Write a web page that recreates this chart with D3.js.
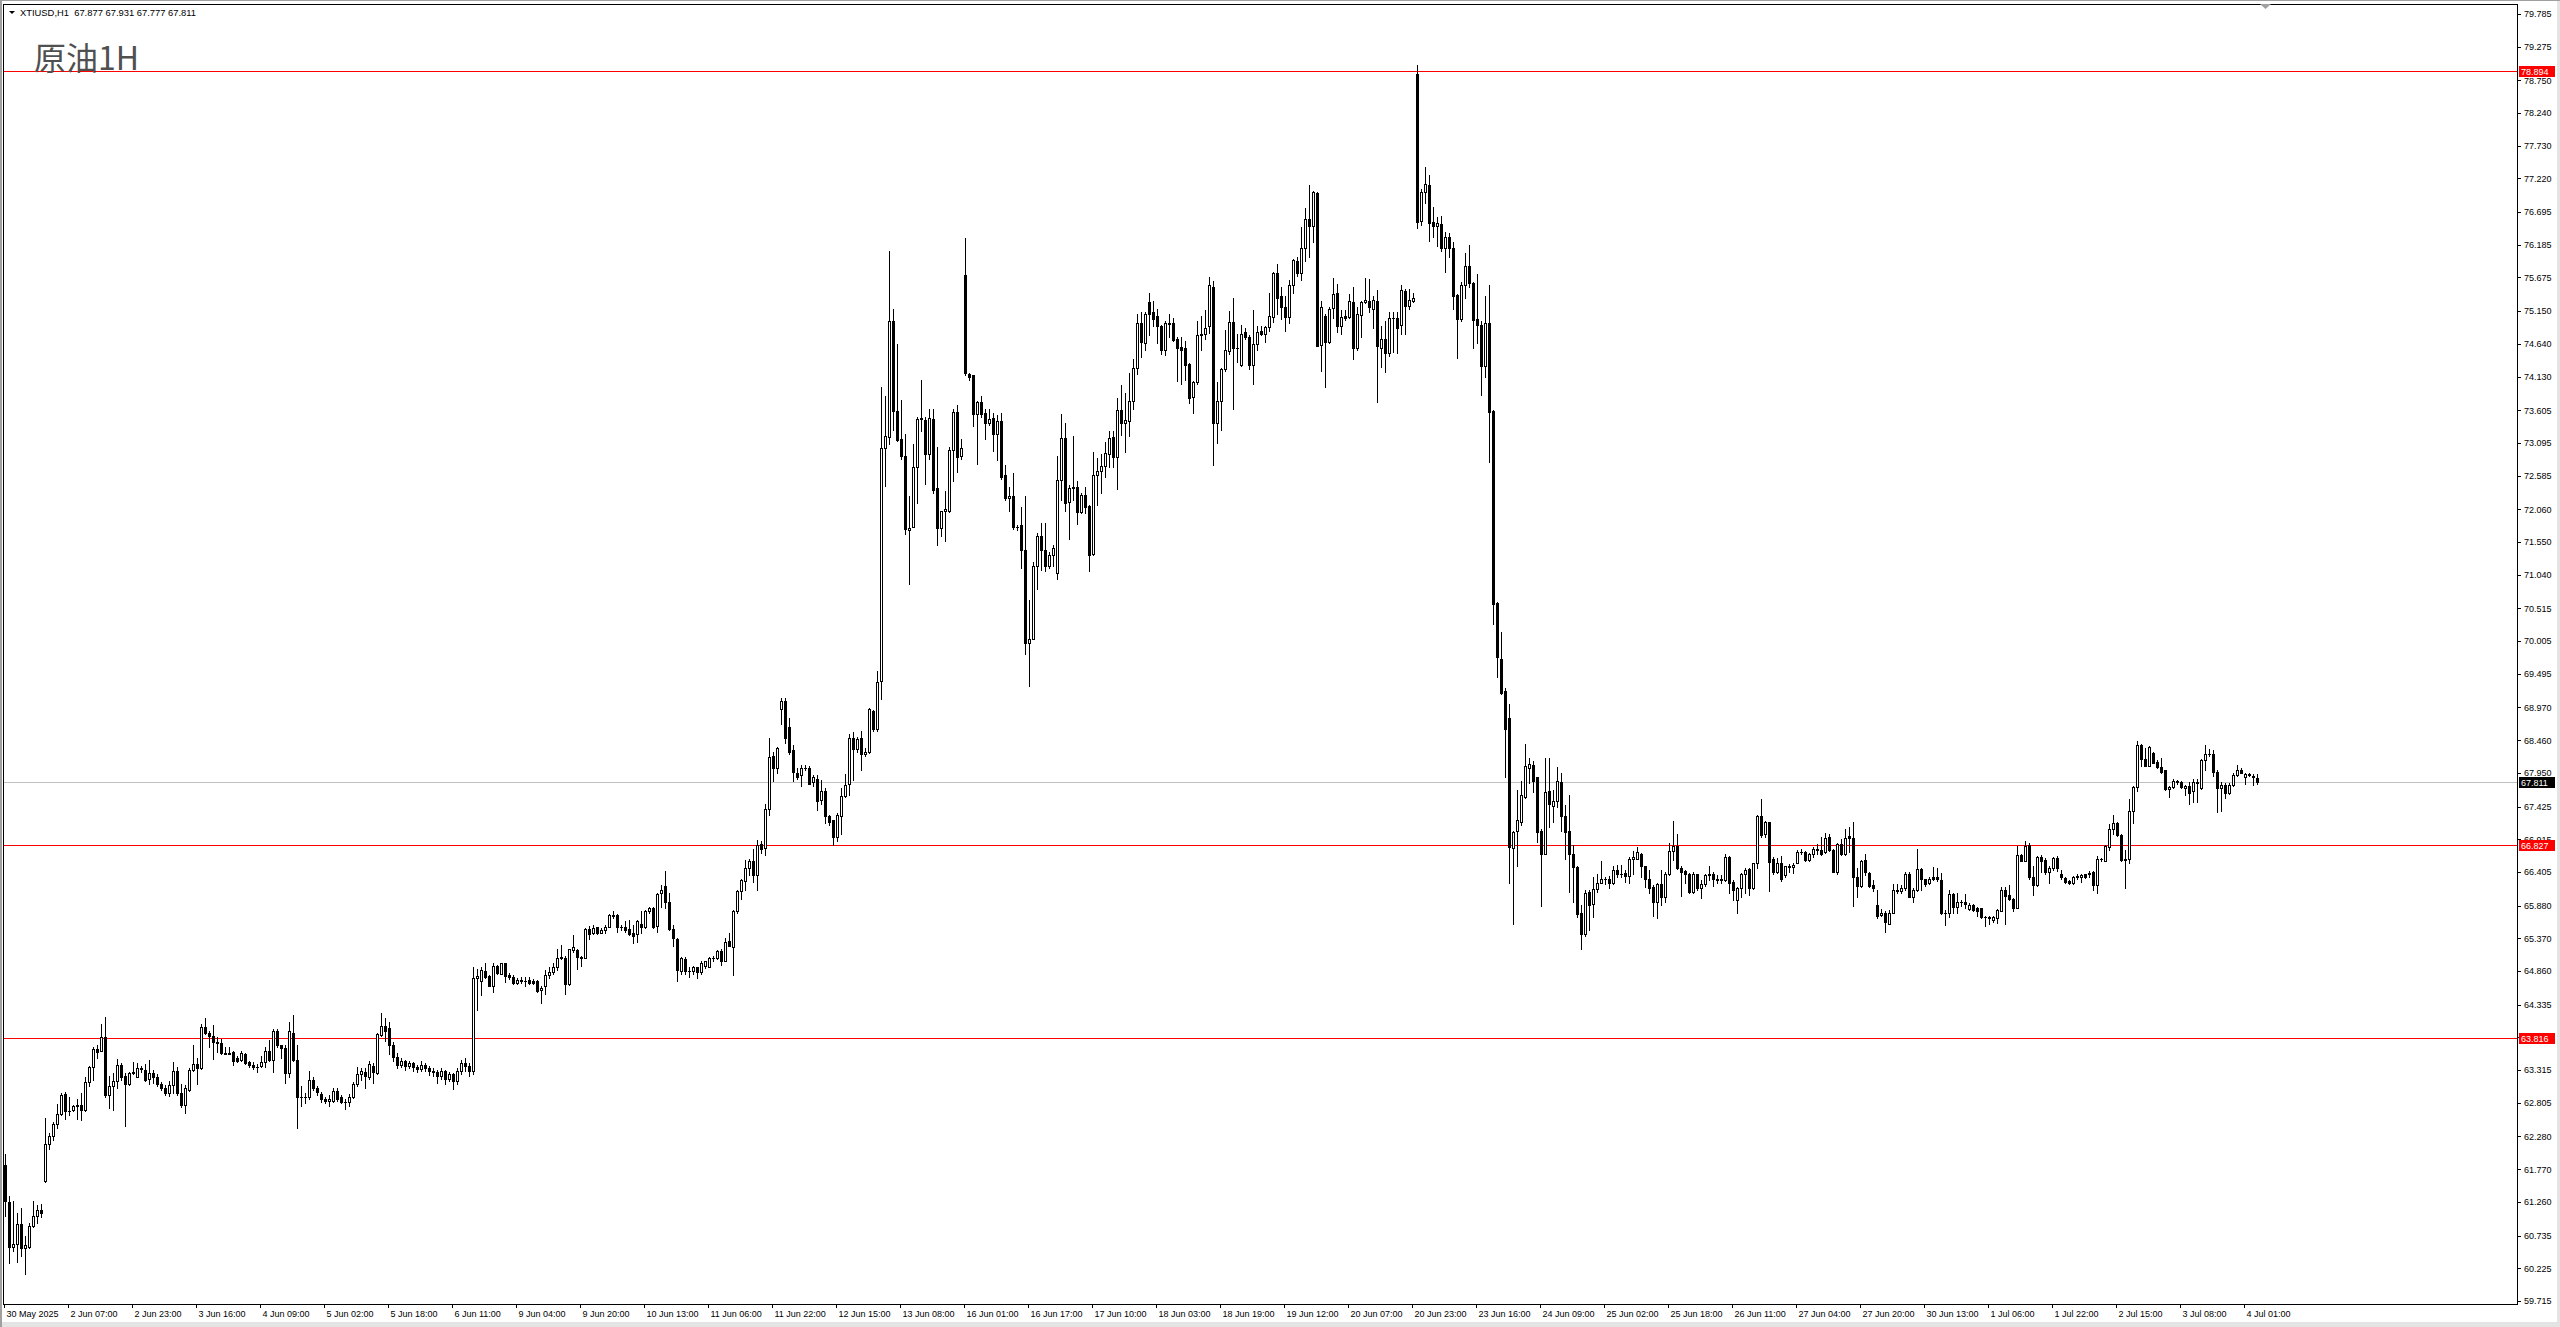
<!DOCTYPE html>
<html><head><meta charset="utf-8">
<script src="https://cdn.jsdelivr.net/npm/d3@7"></script>
<style>html,body{margin:0;padding:0;background:#fff;overflow:hidden}svg{display:block}</style>
</head><body>
<script>
// ---- data: hourly candles [open, high, low, close] per trading week ----
const week0530 = [
[61.83,62.01,61.04,61.28],[61.26,61.35,60.30,60.56],[60.56,61.28,60.49,60.60],[60.60,61.09,60.33,60.91],[60.92,61.17,60.42,60.54],
[60.54,60.73,60.14,60.58],[60.56,60.93,60.54,60.88],[60.88,61.27,60.87,61.04],[61.04,61.21,60.93,61.14],[61.14,61.22,61.02,61.08]];
const week0602 = [
[61.59,62.57,61.57,62.17],[62.17,62.33,62.08,62.29],[62.29,62.51,62.22,62.48],[62.48,62.79,62.41,62.63],[62.63,62.96,62.62,62.92],
[62.94,62.97,62.56,62.68],[62.68,62.89,62.62,62.67],[62.70,62.77,62.68,62.75],[62.75,62.86,62.55,62.77],[62.77,62.96,62.53,62.70],
[62.70,63.21,62.68,63.13],[63.13,63.38,63.07,63.36],[63.36,63.68,63.16,63.65],[63.65,63.70,63.50,63.59],[63.61,64.04,63.61,63.83],
[63.83,64.14,62.90,62.92],[62.92,63.23,62.73,63.07],[63.07,63.27,62.70,63.14],[63.14,63.49,63.03,63.39],[63.39,63.42,63.16,63.21],
[63.22,63.27,62.44,63.10],[63.10,63.28,63.08,63.27],[63.27,63.44,63.25,63.28],[63.21,63.42,63.20,63.34],[63.34,63.38,63.28,63.33],
[63.32,63.41,63.15,63.16],[63.18,63.47,63.10,63.27],[63.27,63.32,63.11,63.20],[63.20,63.25,63.06,63.10],[63.10,63.13,63.01,63.04],
[63.04,63.08,62.92,62.95],[62.95,63.15,62.91,63.08],[63.08,63.44,62.96,63.30],[63.30,63.36,62.92,62.95],[62.95,63.10,62.74,62.77],
[62.77,63.08,62.65,63.03],[63.01,63.34,62.99,63.32],[63.32,63.71,63.30,63.41],[63.41,63.51,63.10,63.34],[63.34,64.04,63.33,63.99],
[63.99,64.12,63.88,63.90],[63.90,63.93,63.68,63.85],[63.85,64.02,63.49,63.75],[63.76,63.83,63.59,63.73],[63.73,63.80,63.56,63.58],
[63.58,63.68,63.56,63.57],[63.57,63.68,63.56,63.58],[63.59,63.61,63.39,63.45],[63.51,63.54,63.44,63.45],[63.47,63.61,63.45,63.58],
[63.56,63.58,63.41,63.42],[63.44,63.45,63.36,63.39],[63.39,63.44,63.33,63.36],[63.36,63.41,63.29,63.37],[63.38,63.54,63.37,63.44],
[63.44,63.68,63.37,63.61],[63.61,63.78,63.45,63.48],[63.48,63.95,63.29,63.92],[63.92,63.95,63.68,63.70],[63.70,63.71,63.51,63.66],
[63.66,63.71,63.11,63.27],[63.27,64.06,63.20,63.92],[63.90,64.18,63.45,63.48],[63.48,63.71,62.41,62.89],[62.89,63.07,62.75,62.90],
[62.90,62.96,62.80,62.89],[62.89,63.30,62.86,63.16],[63.16,63.20,63.01,63.03],[63.04,63.06,62.92,62.97],[62.94,62.97,62.82,62.87],
[62.87,62.90,62.80,62.84],[62.84,62.92,62.75,62.86],[62.84,63.03,62.82,62.99],[62.99,63.03,62.84,62.87],[62.89,62.92,62.80,62.82],
[62.82,62.86,62.71,62.82],[62.82,62.94,62.75,62.89],[62.90,63.13,62.88,63.10],[63.10,63.37,63.07,63.25],[63.25,63.34,63.16,63.30],
[63.28,63.34,63.04,63.23],[63.21,63.45,63.18,63.41],[63.38,63.42,63.11,63.29],[63.27,63.90,63.25,63.88],[63.86,64.20,63.85,64.00],
[64.00,64.12,63.77,63.93],[63.97,64.07,63.56,63.70],[63.70,63.75,63.45,63.52],[63.52,63.58,63.35,63.40],[63.40,63.50,63.36,63.45],
[63.45,63.48,63.32,63.38],[63.38,63.46,63.34,63.42],[63.42,63.44,63.30,63.36],[63.36,63.40,63.28,63.33],[63.33,63.45,63.30,63.40],
[63.40,63.43,63.30,63.35],[63.35,63.38,63.24,63.30],[63.30,63.34,63.22,63.28],[63.28,63.31,63.12,63.22],[63.22,63.35,63.18,63.30],
[63.30,63.32,63.10,63.18],[63.18,63.28,63.14,63.25],[63.25,63.27,63.02,63.15],[63.15,63.34,63.10,63.30],[63.30,63.48,63.26,63.42],
[63.42,63.50,63.30,63.38],[63.38,63.42,63.22,63.30],[63.30,64.92,63.25,64.75],[64.75,64.89,64.25,64.78],[64.71,64.93,64.48,64.88],
[64.86,64.99,64.75,64.77],[64.78,64.80,64.62,64.63],[64.63,64.99,64.54,64.94],[64.94,64.95,64.81,64.83],[64.82,64.99,64.81,64.98]];
const week0609 = [
[64.98,64.99,64.69,64.78],[64.80,64.83,64.73,64.76],[64.76,64.80,64.66,64.68],[64.67,64.75,64.65,64.72],[64.72,64.76,64.68,64.71],
[64.71,64.76,64.62,64.71],[64.72,64.76,64.65,64.68],[64.71,64.73,64.65,64.67],[64.71,64.72,64.54,64.55],[64.56,64.62,64.36,64.60],
[64.62,64.88,64.50,64.79],[64.79,64.93,64.75,64.85],[64.85,64.99,64.82,64.93],[64.93,65.20,64.87,65.07],[65.07,65.26,65.04,65.08],
[65.07,65.09,64.50,64.65],[64.66,65.21,64.64,65.20],[65.18,65.42,65.16,65.23],[65.19,65.21,64.89,65.08],[65.08,65.09,64.94,65.07],
[65.07,65.53,65.06,65.52],[65.52,65.56,65.36,65.44],[65.46,65.58,65.43,65.53],[65.54,65.55,65.43,65.46],[65.46,65.53,65.45,65.50],
[65.50,65.58,65.46,65.54],[65.55,65.75,65.54,65.73],[65.73,65.80,65.69,65.72],[65.73,65.75,65.47,65.54],[65.54,65.58,65.50,65.54],
[65.54,65.64,65.47,65.50],[65.51,65.66,65.42,65.44],[65.45,65.58,65.29,65.41],[65.44,65.66,65.32,65.64],[65.60,65.80,65.46,65.55],
[65.54,65.81,65.53,65.79],[65.79,65.86,65.77,65.84],[65.84,65.86,65.53,65.55],[65.56,66.08,65.47,66.06],[66.07,66.20,65.86,66.13],
[66.18,66.42,65.84,65.94],[65.94,66.07,65.50,65.51],[65.51,65.58,65.25,65.37],[65.36,65.37,64.71,64.87],[64.86,65.08,64.81,65.07],
[65.05,65.08,64.82,64.86],[64.86,64.93,64.77,64.86],[64.86,64.94,64.82,64.93],[64.92,64.93,64.75,64.85],[64.85,65.01,64.82,64.98],
[64.94,65.02,64.90,65.01],[64.93,65.08,64.92,65.07],[65.07,65.09,65.02,65.07],[65.06,65.19,65.05,65.17],[65.17,65.21,64.96,65.02],
[65.02,65.37,65.01,65.31],[65.33,65.45,65.25,65.25],[65.24,65.81,64.80,65.80],[65.79,66.12,65.77,66.11],[66.11,66.30,65.99,66.28],
[66.27,66.59,66.12,66.46],[66.46,66.61,66.36,66.58],[66.57,66.76,66.25,66.36],[66.36,66.90,66.12,66.83],[66.84,66.89,66.70,66.77],
[66.78,67.47,66.67,67.38],[67.38,68.49,67.30,68.20],[68.21,68.28,67.83,68.02],[68.02,68.35,67.94,68.33],[68.95,69.12,68.71,69.07],
[69.07,69.12,68.41,68.49],[68.66,68.80,68.24,68.28],[68.30,68.39,67.82,67.96],[67.95,68.02,67.85,67.88],[67.91,68.08,67.74,68.02],
[68.02,68.08,67.99,68.03],[68.03,68.06,67.77,67.78],[67.80,67.91,67.74,67.89],[67.86,67.91,67.37,67.51],[67.52,67.84,67.46,67.67],
[67.66,67.72,67.17,67.28],[67.28,67.30,67.14,67.19],[67.21,67.22,66.83,66.95],[66.95,67.33,66.89,67.29],[67.28,67.72,66.99,67.59],
[67.59,67.93,67.58,67.76],[67.77,68.55,67.61,68.49],[68.50,68.58,67.84,68.32],[68.32,68.51,68.27,68.47],[68.49,68.60,67.99,68.24],
[68.24,68.33,68.21,68.28],[68.27,68.96,68.26,68.94],[68.91,68.93,68.60,68.63],[68.63,69.54,68.60,69.37],[69.38,73.96,69.10,73.01],
[73.01,73.83,72.43,73.20],[73.19,76.09,73.08,74.99],[74.99,75.19,73.30,73.60],[73.60,74.63,73.13,73.14],[73.16,73.77,72.84,72.89],
[72.89,73.23,71.67,71.75],[71.73,72.27,70.89,71.77],[71.79,73.08,71.78,72.72],[72.72,73.50,72.16,73.47],[73.47,74.08,73.28,73.48],
[73.45,73.50,72.45,72.92],[72.92,73.63,72.84,73.48],[73.47,73.63,72.31,72.36],[72.39,73.03,71.50,71.77],[71.77,72.04,71.65,72.03],
[72.03,72.34,71.56,72.06],[72.04,73.03,72.02,72.98],[72.99,73.63,72.50,73.58],[73.58,73.68,72.64,72.88],[72.89,73.16,72.84,73.01]];
const week0616 = [
[75.71,76.29,74.16,74.19],[74.17,74.19,74.07,74.13],[74.15,74.16,73.36,73.55],[73.55,73.75,72.77,73.73],[73.73,73.82,73.50,73.55],
[73.56,73.63,73.15,73.40],[73.41,73.63,73.38,73.47],[73.48,73.56,72.97,73.24],[73.24,73.53,72.83,73.43],[73.44,73.56,72.53,72.57],
[72.59,72.75,72.21,72.23],[72.23,72.41,72.03,72.26],[72.26,72.62,71.75,71.78],[71.78,71.81,71.73,71.79],[71.81,72.09,71.15,71.43],
[71.43,72.27,69.81,69.97],[69.97,70.65,69.30,70.04],[70.04,71.23,70.03,71.17],[71.17,71.69,70.82,71.65],[71.65,71.84,71.12,71.43],
[71.42,71.84,71.10,71.18],[71.18,71.40,71.15,71.35],[71.35,71.50,71.18,71.45],[71.07,72.89,70.98,72.51],[72.51,73.55,72.21,73.17],
[73.17,73.41,72.03,72.16],[72.17,72.44,71.60,72.39],[72.39,73.20,72.21,72.40],[72.41,72.50,71.83,72.01],[72.01,72.31,72.00,72.28],
[72.29,72.41,72.00,72.09],[72.11,72.12,71.10,71.35],[71.37,72.95,71.35,72.59],[72.59,72.86,72.12,72.66],[72.66,72.92,72.31,72.73],
[72.73,73.11,72.56,72.93],[72.92,73.28,72.72,73.17],[73.19,73.28,72.72,72.88],[72.88,73.80,72.37,73.61],[73.61,74.00,73.22,73.41],
[73.41,73.88,72.96,73.45],[73.43,74.19,73.20,73.75],[73.75,74.40,73.63,74.27],[74.27,75.11,74.17,74.97],[74.97,75.14,74.44,74.67],
[74.66,75.14,74.55,75.10],[75.29,75.43,74.78,75.11],[75.13,75.31,74.91,75.02],[75.08,75.18,74.66,74.91],[74.92,74.93,74.48,74.55],
[74.55,74.99,74.46,74.97],[74.97,75.10,74.74,74.95],[74.97,75.04,74.69,74.70],[74.71,74.75,74.06,74.57],[74.59,74.74,74.01,74.55],
[74.57,74.69,74.08,74.31],[74.32,74.34,73.72,73.79],[73.81,74.06,73.56,74.04],[74.04,74.99,74.01,74.77],[74.79,75.07,74.55,74.77],
[74.79,75.17,74.71,74.89],[74.91,75.68,74.81,75.55],[75.53,75.62,72.75,73.41],[73.41,74.04,73.10,73.75],[73.75,74.27,73.29,74.24],
[74.25,74.86,74.22,74.54],[74.53,75.15,74.48,74.98],[74.98,75.36,73.62,74.58],[74.58,74.79,74.36,74.58],[74.31,74.93,74.30,74.80],
[74.82,74.88,74.71,74.74],[74.75,74.78,74.24,74.31],[74.31,75.17,74.02,74.63],[74.63,74.92,74.55,74.83],[74.84,74.91,74.77,74.80],
[74.80,74.92,74.67,74.90],[74.90,75.44,74.84,75.08],[75.06,75.76,74.98,75.74],[75.74,75.89,75.11,75.35],[75.38,75.52,75.03,75.22],
[75.22,75.38,74.84,75.06],[75.06,75.64,74.96,75.55],[75.55,75.97,75.44,75.94],[75.93,75.99,75.69,75.75],[75.74,76.46,75.64,76.14],
[76.13,76.75,75.93,76.58],[76.58,77.12,76.00,76.47],[76.47,77.03,76.23,77.00],[76.99,77.00,74.60,74.61],[74.62,75.30,74.21,75.22],
[75.07,75.10,73.96,74.67],[74.67,75.22,74.65,75.19],[75.20,75.66,75.04,75.41],[75.43,75.57,74.83,74.91],[74.91,75.17,74.79,75.06],
[75.07,75.16,75.01,75.05],[75.06,75.41,75.05,75.30],[75.29,75.52,74.41,74.57],[74.57,75.22,74.55,75.10],[75.09,75.30,74.74,75.29],
[75.29,75.66,75.27,75.32],[75.31,75.65,75.14,75.21],[75.18,75.38,74.89,75.32],[75.31,75.48,73.73,74.61],[74.58,74.91,74.28,74.71],
[74.72,74.99,74.20,74.49],[74.49,75.14,74.45,75.04],[75.04,75.14,74.52,75.05],[75.04,75.14,74.49,74.89],[74.93,75.56,74.80,75.48],
[75.47,75.49,74.80,75.23],[75.23,75.49,75.18,75.32],[75.30,75.43,75.29,75.36]];
const week0623 = [
[78.85,78.98,76.45,76.54],[76.56,77.06,76.49,77.00],[77.00,77.39,76.84,77.13],[77.12,77.27,76.25,76.52],[76.54,76.77,76.31,76.48],
[76.48,76.61,76.16,76.52],[76.51,76.63,76.09,76.13],[76.13,76.39,75.76,76.31],[76.31,76.37,76.00,76.13],[76.14,76.23,75.18,75.38],
[75.40,75.42,74.42,75.03],[75.03,75.61,74.99,75.56],[75.56,76.05,75.36,75.86],[75.86,76.18,75.52,75.59],[75.59,75.61,74.58,75.01],
[75.03,75.73,74.65,74.94],[74.94,74.99,73.84,74.30],[74.30,75.38,74.13,74.97],[74.97,75.56,72.80,73.57],[73.59,73.61,70.27,70.59],
[70.60,70.62,69.45,69.75],[69.72,70.15,69.18,69.20],[69.23,69.27,67.88,68.64],[68.81,69.02,66.23,66.80],[66.78,67.05,65.59,67.03],
[67.04,67.69,66.50,67.21],[67.19,67.83,67.13,67.60],[67.58,68.40,67.56,68.06],[68.03,68.18,67.79,68.09],[68.08,68.13,67.65,67.83],
[67.88,67.89,66.87,67.03],[67.05,67.07,65.88,66.69],[66.69,68.18,66.69,67.65],[67.67,68.18,67.10,67.46],[67.44,67.68,67.19,67.51],
[67.51,68.04,67.42,67.83],[67.80,67.94,67.05,67.28],[67.28,67.45,66.61,67.03],[67.05,67.60,66.09,66.69],[66.69,66.82,65.94,66.48],
[66.48,66.50,65.70,65.75],[65.77,65.89,65.20,65.43],[65.43,66.12,65.41,66.07],[66.09,66.12,65.50,65.89],[65.91,66.32,65.70,66.14],
[66.14,66.37,66.09,66.23],[66.23,66.58,66.23,66.30],[66.30,66.32,66.21,66.29],[66.30,66.34,66.16,66.23],[66.23,66.49,66.21,66.43],
[66.43,66.52,66.32,66.37],[66.37,66.52,66.32,66.37],[66.39,66.43,66.25,66.34],[66.34,66.64,66.23,66.61],[66.60,66.73,66.37,66.64],
[66.61,66.80,66.60,66.71],[66.68,66.70,66.33,66.49],[66.49,66.50,66.17,66.29],[66.29,66.43,66.07,66.15],[66.17,66.20,65.71,65.94],
[65.94,66.24,65.69,66.22],[66.21,66.43,65.89,66.02],[66.02,66.41,65.93,66.38],[66.37,66.85,66.36,66.73],[66.73,67.20,66.59,66.81],
[66.81,66.99,66.45,66.46],[66.46,66.49,66.03,66.41],[66.42,66.43,66.23,66.38],[66.38,66.39,66.08,66.09],[66.09,66.40,66.07,66.38],
[66.37,66.38,66.12,66.15],[66.15,66.28,66.00,66.21],[66.21,66.37,66.19,66.36],[66.36,66.49,66.28,66.38],[66.38,66.40,66.19,66.29],
[66.30,66.36,66.23,66.28],[66.30,66.35,66.24,66.28],[66.28,66.68,66.26,66.63],[66.64,66.65,66.07,66.24],[66.25,66.28,65.97,66.12],
[65.97,66.17,65.77,66.15],[66.15,66.39,66.02,66.38],[66.37,66.46,66.07,66.43],[66.45,66.46,66.05,66.15],[66.15,66.55,66.14,66.54],
[66.54,67.30,66.46,67.28],[67.28,67.54,66.95,66.98],[66.99,67.20,66.95,67.18],[67.18,67.19,66.11,66.56],[66.61,66.63,66.38,66.41],
[66.41,66.62,66.39,66.55],[66.55,66.65,66.27,66.30],[66.35,66.50,66.33,66.49],[66.50,66.53,66.40,66.48],[66.48,66.54,66.39,66.51],
[66.55,66.75,66.54,66.71],[66.71,66.77,66.69,66.71],[66.71,66.73,66.58,66.59],[66.59,66.70,66.58,66.69],[66.68,66.80,66.64,66.76],
[66.76,66.84,66.68,66.74],[66.74,66.95,66.67,66.68],[66.71,67.01,66.70,66.93],[66.95,66.99,66.73,66.75],[66.75,66.77,66.40,66.41],
[66.40,66.86,66.38,66.84],[66.84,66.92,66.67,66.68],[66.68,67.08,66.67,66.94],[66.96,67.11,66.71,66.94],[66.94,67.19,65.88,66.32],
[66.33,66.47,66.02,66.19],[66.19,66.59,66.17,66.58],[66.59,66.68,66.36,66.40],[66.39,66.41,66.17,66.19],[66.20,66.28,66.11,66.16]];
const week0630 = [
[65.89,66.12,65.68,65.72],[65.74,65.82,65.71,65.77],[65.76,65.79,65.47,65.62],[65.60,65.81,65.59,65.77],[65.77,66.22,65.76,66.13],
[66.13,66.22,66.07,66.10],[66.10,66.20,66.07,66.16],[66.16,66.40,66.13,66.38],[66.38,66.40,66.01,66.02],[66.02,66.15,65.94,66.13],
[66.13,66.76,66.11,66.45],[66.45,66.46,66.12,66.29],[66.29,66.30,66.19,66.21],[66.23,66.33,66.21,66.30],[66.33,66.48,66.28,66.30],
[66.32,66.46,66.27,66.29],[66.28,66.39,65.75,65.77],[65.77,65.81,65.58,65.77],[65.77,66.12,65.70,66.06],[66.06,66.07,65.76,65.86],
[65.86,66.07,65.77,65.94],[65.94,65.97,65.88,65.94],[65.94,66.06,65.84,65.91],[65.82,65.92,65.81,65.89],[65.89,65.90,65.79,65.81],
[65.84,65.86,65.72,65.80],[65.84,65.85,65.68,65.70],[65.70,65.71,65.56,65.70],[65.70,65.71,65.60,65.68],[65.66,65.72,65.63,65.70],
[65.68,65.83,65.61,65.81],[65.80,66.17,65.79,66.13],[66.13,66.17,65.59,66.03],[66.05,66.20,65.97,65.99],[65.99,66.00,65.80,65.85],
[65.85,66.81,65.84,66.67],[66.67,66.69,66.57,66.58],[66.58,66.89,66.57,66.81],[66.82,66.85,66.30,66.32],[66.32,66.49,66.05,66.20],
[66.20,66.65,66.19,66.64],[66.64,66.67,66.41,66.58],[66.59,66.62,66.38,66.41],[66.40,66.50,66.23,66.46],[66.46,66.64,66.44,66.62],
[66.62,66.65,66.42,66.46],[66.38,66.43,66.30,66.32],[66.31,66.32,66.24,66.25],[66.26,66.28,66.21,66.23],[66.23,66.34,66.21,66.33],
[66.33,66.37,66.30,66.34],[66.33,66.38,66.25,66.36],[66.37,66.38,66.31,66.32],[66.39,66.42,66.33,66.37],[66.41,66.42,66.12,66.20],
[66.20,66.65,66.08,66.60],[66.60,66.62,66.58,66.61],[66.58,66.82,66.57,66.81],[66.80,67.16,66.74,67.08],[67.08,67.29,66.99,67.17],
[67.17,67.19,66.96,66.98],[66.98,66.99,66.58,66.59],[66.59,66.75,66.15,66.60],[66.60,67.54,66.54,67.36],[67.36,67.75,67.17,67.73],
[67.73,68.44,67.67,68.38],[68.38,68.40,68.05,68.16],[68.16,68.33,68.05,68.06],[68.06,68.37,68.05,68.36],[68.26,68.28,68.10,68.11],
[68.12,68.15,68.02,68.04],[68.04,68.18,67.95,67.97],[67.99,68.00,67.68,67.70],[67.70,67.74,67.58,67.73],[67.73,67.85,67.72,67.82],
[67.82,67.84,67.78,67.81],[67.81,67.82,67.71,67.73],[67.72,67.76,67.61,67.74],[67.74,67.81,67.47,67.64],[67.66,67.85,67.50,67.80],
[67.79,67.86,67.50,67.81],[67.71,68.16,67.70,68.15],[68.15,68.38,68.00,68.24],[68.24,68.32,68.21,68.24],[68.24,68.31,67.90,67.97],
[67.97,67.99,67.34,67.71],[67.71,67.80,67.36,67.76],[67.76,67.79,67.55,67.64],[67.64,67.79,67.62,67.76],[67.76,67.94,67.74,67.92],
[67.92,68.07,67.90,68.00],[68.00,68.03,67.94,67.95],[67.88,67.95,67.77,67.93],[67.93,67.94,67.90,67.91],[67.90,67.93,67.76,67.88],
[67.877,67.931,67.777,67.811]];

const timeLabels = ["30 May 2025","2 Jun 07:00","2 Jun 23:00","3 Jun 16:00","4 Jun 09:00","5 Jun 02:00","5 Jun 18:00","6 Jun 11:00",
"9 Jun 04:00","9 Jun 20:00","10 Jun 13:00","11 Jun 06:00","11 Jun 22:00","12 Jun 15:00","13 Jun 08:00","16 Jun 01:00",
"16 Jun 17:00","17 Jun 10:00","18 Jun 03:00","18 Jun 19:00","19 Jun 12:00","20 Jun 07:00","20 Jun 23:00","23 Jun 16:00",
"24 Jun 09:00","25 Jun 02:00","25 Jun 18:00","26 Jun 11:00","27 Jun 04:00","27 Jun 20:00","30 Jun 13:00","1 Jul 06:00",
"1 Jul 22:00","2 Jul 15:00","3 Jul 08:00","4 Jul 01:00"];
const barsPerLabel = 16;
const priceTicks = [79.785,79.275,78.750,78.240,77.730,77.220,76.695,76.185,75.675,75.150,74.640,74.130,73.605,73.095,
72.585,72.060,71.550,71.040,70.515,70.005,69.495,68.970,68.460,67.950,67.425,66.915,66.405,65.880,65.370,64.860,
64.335,63.825,63.315,62.805,62.280,61.770,61.260,60.735,60.225,59.715];
const levelLines = [78.894, 66.827, 63.816];
const currentPrice = 67.811;
const symbolName = "XTIUSD,H1";
const titleText = "原油1H";

// ---- build ----
const bars = [].concat(week0530, week0602, week0609, week0616, week0623, week0630)
  .map((d, i) => ({i, o: d[0], h: d[1], l: d[2], c: d[3]}));
const W = 2560, H = 1327;
const plot = {left: 3, top: 4, right: 2517, bottom: 1304};
const FONT = "'Liberation Sans', Arial, sans-serif";

const svg = d3.select("body").append("svg").attr("width", W).attr("height", H);
svg.append("rect").attr("width", W).attr("height", H).attr("fill", "#ffffff");
// window edges
svg.append("rect").attr("x", 0).attr("y", 1322).attr("width", W).attr("height", 5).attr("fill", "#e4e4e4");
svg.append("rect").attr("x", 2557).attr("y", 0).attr("width", 3).attr("height", H).attr("fill", "#e4e4e4");
svg.append("rect").attr("x", 0).attr("y", 0).attr("width", W).attr("height", 1).attr("fill", "#a0a0a0");
svg.append("rect").attr("x", 0).attr("y", 0).attr("width", 2).attr("height", H).attr("fill", "#a0a0a0");

const x = d3.scaleLinear().domain([0, bars.length - 1]).range([5, 5 + 4 * (bars.length - 1)]);
const y = d3.scaleLinear().domain([59.715, 79.785]).range([1300.95, 13.86]);

// level lines
const lines = svg.append("g").attr("shape-rendering", "crispEdges");
lines.append("line").attr("x1", plot.left).attr("x2", plot.right)
  .attr("y1", Math.round(y(currentPrice)) + 0.5).attr("y2", Math.round(y(currentPrice)) + 0.5)
  .attr("stroke", "#c0c0c0").attr("stroke-width", 1);
lines.selectAll(".lvl").data(levelLines).join("line").attr("class", "lvl")
  .attr("x1", plot.left).attr("x2", plot.right)
  .attr("y1", d => Math.round(y(d)) + 0.5).attr("y2", d => Math.round(y(d)) + 0.5)
  .attr("stroke", "#ff0000").attr("stroke-width", 1);

// candles
const cg = svg.append("g").attr("shape-rendering", "crispEdges");
cg.selectAll(".wick").data(bars).join("rect").attr("class", "wick")
  .attr("x", d => x(d.i)).attr("width", 1)
  .attr("y", d => Math.round(y(d.h)))
  .attr("height", d => Math.max(1, Math.round(y(d.l)) - Math.round(y(d.h)) + 1))
  .attr("fill", "#000");
const bodyTop = d => Math.round(y(Math.max(d.o, d.c)));
const bodyBot = d => Math.round(y(Math.min(d.o, d.c)));
// bear bodies and doji
cg.selectAll(".bear").data(bars.filter(d => d.c < d.o || bodyBot(d) - bodyTop(d) < 1)).join("rect").attr("class", "bear")
  .attr("x", d => x(d.i) - 1).attr("width", 3)
  .attr("y", d => bodyTop(d))
  .attr("height", d => Math.max(1, bodyBot(d) - bodyTop(d) + 1))
  .attr("fill", "#000");
// bull bodies
cg.selectAll(".bull").data(bars.filter(d => d.c >= d.o && bodyBot(d) - bodyTop(d) >= 1)).join("rect").attr("class", "bull")
  .attr("x", d => x(d.i) - 0.5).attr("width", 2)
  .attr("y", d => bodyTop(d) + 0.5)
  .attr("height", d => bodyBot(d) - bodyTop(d))
  .attr("fill", "#fff").attr("stroke", "#000").attr("stroke-width", 1);

// frame
svg.append("rect").attr("x", plot.left + 0.5).attr("y", plot.top + 0.5)
  .attr("width", plot.right - plot.left).attr("height", plot.bottom - plot.top)
  .attr("fill", "none").attr("stroke", "#000").attr("stroke-width", 1).attr("shape-rendering", "crispEdges");

// right price axis
const ya = svg.append("g").attr("transform", `translate(${plot.right},0)`)
  .call(d3.axisRight(y).tickValues(priceTicks).tickSize(4).tickPadding(3).tickFormat(d => d.toFixed(3)));
ya.select(".domain").remove();
ya.attr("font-family", FONT).attr("font-size", 9);
ya.selectAll("line").attr("stroke", "#000").attr("shape-rendering", "crispEdges");
ya.selectAll("text").attr("fill", "#000");

// bottom time axis
const xa = svg.append("g").attr("transform", `translate(-1,${plot.bottom})`)
  .call(d3.axisBottom(x).tickValues(timeLabels.map((t, k) => k * barsPerLabel)).tickSize(4).tickPadding(3)
    .tickFormat((d, k) => timeLabels[k]));
xa.select(".domain").remove();
xa.attr("font-family", FONT).attr("font-size", 9);
xa.selectAll("line").attr("stroke", "#000").attr("shape-rendering", "crispEdges");
xa.selectAll("text").attr("fill", "#000").attr("text-anchor", "start").attr("dx", 2);

// price boxes on the axis
const boxes = [...levelLines.map(v => ({v, bg: "#ff0000"})), {v: currentPrice, bg: "#000000"}];
const bg = svg.append("g");
bg.selectAll("rect").data(boxes).join("rect")
  .attr("x", plot.right + 2).attr("width", 36)
  .attr("y", d => Math.round(y(d.v)) - 5).attr("height", 11)
  .attr("fill", d => d.bg).attr("shape-rendering", "crispEdges");
bg.selectAll("text").data(boxes).join("text")
  .attr("x", plot.right + 4).attr("y", d => Math.round(y(d.v)) + 0.5).attr("dy", "0.35em")
  .attr("font-family", FONT).attr("font-size", 9).attr("fill", "#fff")
  .text(d => d.v.toFixed(3));

// header
const last = bars[bars.length - 1];
svg.append("path").attr("d", "M9,11 L15,11 L12,14 Z").attr("fill", "#000");
svg.append("text").attr("x", 20).attr("y", 16).attr("font-family", FONT).attr("font-size", 9.4).attr("fill", "#000")
  .attr("xml:space", "preserve")
  .text(`${symbolName}  ${last.o.toFixed(3)} ${last.h.toFixed(3)} ${last.l.toFixed(3)} ${last.c.toFixed(3)}`);
svg.append("text").attr("x", 34).attr("y", 70).attr("font-family", "'Noto Sans CJK SC', sans-serif")
  .attr("font-size", 32).attr("fill", "#505050").text(titleText);
// chart shift marker
svg.append("path").attr("d", "M2260,4 L2271,4 L2265.5,9 Z").attr("fill", "#a0a0a0");
</script>
</body></html>
